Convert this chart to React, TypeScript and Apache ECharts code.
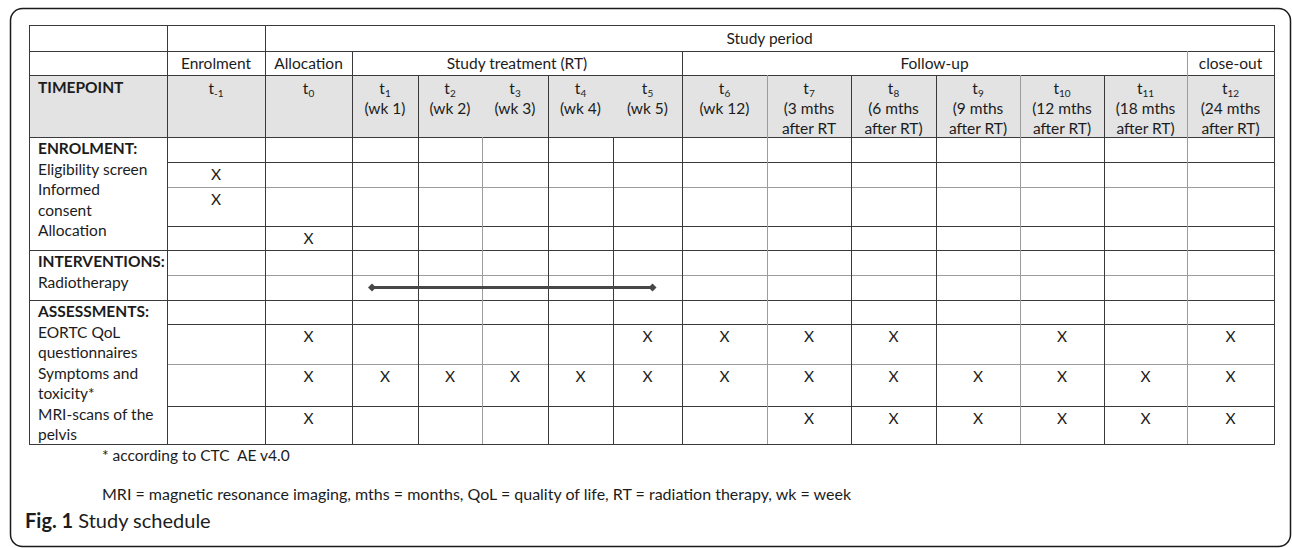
import React, { useEffect, useRef } from "react";
import * as echarts from "echarts";

// ---------- data ----------
const topLabel = "Study period";
const periodLabels = ["Enrolment", "Allocation", "Study treatment (RT)", "Follow-up", "close-out"];
const periodSpans = [1, 1, 5, 6, 1];
const timepointHeading = "TIMEPOINT";
const timepointSubs = ["-1", "0", "1", "2", "3", "4", "5", "6", "7", "8", "9", "10", "11", "12"];
const timepointLine2 = ["", "", "(wk 1)", "(wk 2)", "(wk 3)", "(wk 4)", "(wk 5)", "(wk 12)", "(3 mths", "(6 mths", "(9 mths", "(12 mths", "(18 mths", "(24 mths"];
const timepointLine3 = ["", "", "", "", "", "", "", "", "after RT", "after RT)", "after RT)", "after RT)", "after RT)", "after RT)"];
const sectionTitles = ["ENROLMENT:", "INTERVENTIONS:", "ASSESSMENTS:"];
const activityLabels = [
  ["Eligibility screen"],
  ["Informed", "consent"],
  ["Allocation"],
  ["Radiotherapy"],
  ["EORTC QoL", "questionnaires"],
  ["Symptoms and", "toxicity*"],
  ["MRI-scans of the", "pelvis"],
];
const activitySection = [0, 0, 0, 1, 2, 2, 2];
const eligibilityMarks = ["-1"];
const consentMarks = ["-1"];
const allocationMarks = ["0"];
const radiotherapyRange = ["1", "5"];
const qolMarks = ["0", "5", "6", "7", "8", "10", "12"];
const symptomMarks = ["0", "1", "2", "3", "4", "5", "6", "7", "8", "9", "10", "11", "12"];
const mriMarks = ["0", "7", "8", "9", "10", "11", "12"];
const activityMarks: (string[] | null)[] = [eligibilityMarks, consentMarks, allocationMarks, null, qolMarks, symptomMarks, mriMarks];
const footnote1 = "* according to CTC  AE v4.0";
const footnote2 = "MRI = magnetic resonance imaging, mths = months, QoL = quality of life, RT = radiation therapy, wk = week";
const captionBold = "Fig. 1";
const captionText = " Study schedule";

// ---------- layout ----------
const colEdges = [29, 167, 265, 352, 418, 482, 548, 613, 682, 767, 851, 936, 1020, 1104, 1187, 1274];
const headRows = [25, 51, 75, 137];
const bodyRowEdges = [137, 162, 187, 226, 250, 275, 300, 324, 364, 406, 444];
const FONT = "Lato";
const FS = 15.5;
const TXT = "#1c1c1c";
const DARK = "#3a3a3a";
const LIGHT = "#9c9c9c";
const lightV = new Set([482, 767, 1020, 1187]);
const lightH = new Set([187, 275, 364]);

function buildElements() {
  const els: any[] = [];
  const left = colEdges[0];
  const right = colEdges[colEdges.length - 1];
  const bottom = bodyRowEdges[bodyRowEdges.length - 1];
  const tpLeft = (i: number) => colEdges[i + 1];
  const tpRight = (i: number) => colEdges[i + 2];
  const tpCenter = (i: number) => (tpLeft(i) + tpRight(i)) / 2;

  // frame
  els.push({ type: "rect", shape: { x: 10.5, y: 8.5, width: 1280, height: 538, r: 12 }, style: { fill: "none", stroke: "#1a1a1a", lineWidth: 1.5 } });
  // header fill
  els.push({ type: "rect", shape: { x: left, y: headRows[2], width: right - left, height: headRows[3] - headRows[2] }, style: { fill: "#e3e3e3" } });

  const hline = (y: number, x1: number, x2: number) =>
    els.push({ type: "line", shape: { x1, y1: y + 0.5, x2, y2: y + 0.5 }, style: { stroke: lightH.has(y) ? LIGHT : DARK, lineWidth: 1 } });
  const vline = (x: number, y1: number, y2: number) =>
    els.push({ type: "line", shape: { x1: x + 0.5, y1, x2: x + 0.5, y2 }, style: { stroke: lightV.has(x) ? LIGHT : DARK, lineWidth: 1 } });

  headRows.forEach((y) => hline(y, left, right + 1));
  const sectionStartRows: number[] = [];
  let r = 0;
  activitySection.forEach((s, i) => {
    if (i === 0 || activitySection[i - 1] !== s) {
      sectionStartRows.push(r);
      r++;
    }
    r++;
  });
  for (let k = 1; k < bodyRowEdges.length; k++) {
    const y = bodyRowEdges[k];
    const full = k === bodyRowEdges.length - 1 || sectionStartRows.includes(k);
    hline(y, full ? left : colEdges[1], right + 1);
  }
  vline(left, headRows[0], bottom);
  vline(right, headRows[0], bottom);
  vline(colEdges[1], headRows[0], bottom);
  vline(colEdges[2], headRows[0], bottom);
  let c = 0;
  periodSpans.forEach((sp) => {
    c += sp;
    if (c < timepointSubs.length) vline(colEdges[c + 1], headRows[1], bottom);
  });
  const noHeaderLine = new Set([482, 613]);
  for (let i = 3; i < colEdges.length - 1; i++) {
    const x = colEdges[i];
    if ([352, 682, 1187].includes(x)) continue;
    vline(x, noHeaderLine.has(x) ? headRows[3] : headRows[2], bottom);
  }

  const text = (t: string, x: number, y: number, opts: any = {}) =>
    els.push({ type: "text", x, y, style: { text: t, fontFamily: FONT, fontSize: FS, fill: TXT, align: "center", verticalAlign: "middle", ...opts } });

  text(topLabel, (colEdges[2] + right) / 2, 37.5);
  c = 0;
  periodLabels.forEach((p, i) => {
    const x1 = colEdges[c + 1];
    c += periodSpans[i];
    const x2 = colEdges[c + 1];
    text(p, (x1 + x2) / 2, 62.5);
  });
  text(timepointHeading, 38, 87, { align: "left", fontWeight: "bold" });
  timepointSubs.forEach((s, i) => {
    els.push({
      type: "text", x: tpCenter(i), y: 88,
      style: {
        text: `{t|t}{s|${s}}`, fontFamily: FONT, fill: TXT, align: "center", verticalAlign: "middle",
        rich: { t: { fontFamily: FONT, fontSize: FS, lineHeight: 20, fill: TXT }, s: { fontFamily: FONT, fontSize: 10, lineHeight: 14, verticalAlign: "bottom", fill: TXT } },
      },
    });
    if (timepointLine2[i]) text(timepointLine2[i], tpCenter(i), 107.5);
    if (timepointLine3[i]) text(timepointLine3[i], tpCenter(i), 128);
  });

  let row = 0;
  activityLabels.forEach((lines, i) => {
    const sec = activitySection[i];
    if (i === 0 || activitySection[i - 1] !== sec) {
      text(sectionTitles[sec], 38, bodyRowEdges[row] + 11, { align: "left", fontWeight: "bold" });
      row++;
    }
    const top = bodyRowEdges[row];
    const secTop = bodyRowEdges[sectionStartRows[sec]];
    lines.forEach((ln, j) => {
      let idx = 1;
      for (let a = 0; a < i; a++) if (activitySection[a] === sec) idx += activityLabels[a].length;
      text(ln, 38, secTop + 11 + (idx + j) * 20.5, { align: "left" });
    });
    const marks = activityMarks[i];
    if (marks) {
      marks.forEach((m) => {
        const k = timepointSubs.indexOf(m);
        text("X", tpCenter(k), top + 12);
      });
    } else {
      const k1 = timepointSubs.indexOf(radiotherapyRange[0]);
      const k2 = timepointSubs.indexOf(radiotherapyRange[1]);
      const y = (top + bodyRowEdges[row + 1]) / 2;
      const xa = tpCenter(k1) - 13;
      const xb = tpCenter(k2) + 5;
      els.push({ type: "line", shape: { x1: xa, y1: y, x2: xb, y2: y }, style: { stroke: "#474747", lineWidth: 3 } });
      [xa, xb].forEach((xx) =>
        els.push({ type: "polygon", shape: { points: [[xx - 4, y], [xx, y - 4], [xx + 4, y], [xx, y + 4]] }, style: { fill: "#474747" } })
      );
    }
    row++;
  });

  text(footnote1, 102, 455, { align: "left", fontSize: 15.5 });
  text(footnote2, 102, 493, { align: "left", fontSize: 16 });
  els.push({
    type: "text", x: 25, y: 520,
    style: {
      text: `{b|${captionBold}}{n|${captionText}}`, fontFamily: FONT, fill: TXT, align: "left", verticalAlign: "middle",
      rich: { b: { fontFamily: FONT, fontSize: 20, fontWeight: "bold", fill: TXT }, n: { fontFamily: FONT, fontSize: 20, fill: TXT } },
    },
  });
  return els;
}

export default function App() {
  const ref = useRef<HTMLDivElement>(null);
  useEffect(() => {
    document.body.style.margin = "0";
    if (!ref.current) return;
    const chart = echarts.init(ref.current, null, { renderer: "svg" });
    chart.setOption({ animation: false, backgroundColor: "#ffffff", graphic: { elements: buildElements() } });
    return () => chart.dispose();
  }, []);
  return <div ref={ref} style={{ width: 1292, height: 548 }} />;
}
